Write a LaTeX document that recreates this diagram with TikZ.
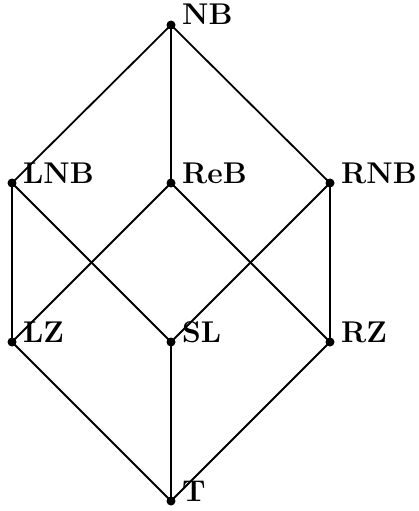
\documentclass[tikz,border=0pt]{standalone}
\usepackage{fontspec}
\begin{document}
\begin{tikzpicture}[x=1pt,y=-1pt,
  vtx/.style={circle,fill=black,inner sep=0pt,minimum size=9pt},
  lbl/.style={anchor=base west,inner sep=0pt,font=\bfseries\fontsize{30pt}{36pt}\selectfont},
  edge/.style={line width=1.8pt}]
\useasboundingbox (0,0) rectangle (418,511);
\node[vtx] (NB) at (171,25) {};
\node[vtx] (LNB) at (12,183) {};
\node[vtx] (ReB) at (171,183) {};
\node[vtx] (RNB) at (330,183) {};
\node[vtx] (LZ) at (12,342) {};
\node[vtx] (SL) at (171,342) {};
\node[vtx] (RZ) at (330,342) {};
\node[vtx] (T) at (171,501) {};
\foreach \n/\t in {NB/NB,LNB/LNB,ReB/ReB,RNB/RNB,LZ/LZ,SL/SL,RZ/RZ,T/T}
  \node[lbl] (l\n) at ([xshift=11pt]\n.center) {\t};
\draw[edge] (NB.center) -- (LNB.center);
\draw[edge] (NB.center) -- (ReB.center);
\draw[edge] (NB.center) -- (RNB.center);
\draw[edge] (LNB.center) -- (LZ.center);
\draw[edge] (LNB.center) -- (SL.center);
\draw[edge] (ReB.center) -- (LZ.center);
\draw[edge] (ReB.center) -- (RZ.center);
\draw[edge] (RNB.center) -- (SL.center);
\draw[edge] (RNB.center) -- (RZ.center);
\draw[edge] (LZ.center) -- (T.center);
\draw[edge] (SL.center) -- (T.center);
\draw[edge] (RZ.center) -- (T.center);
\end{tikzpicture}
\end{document}
